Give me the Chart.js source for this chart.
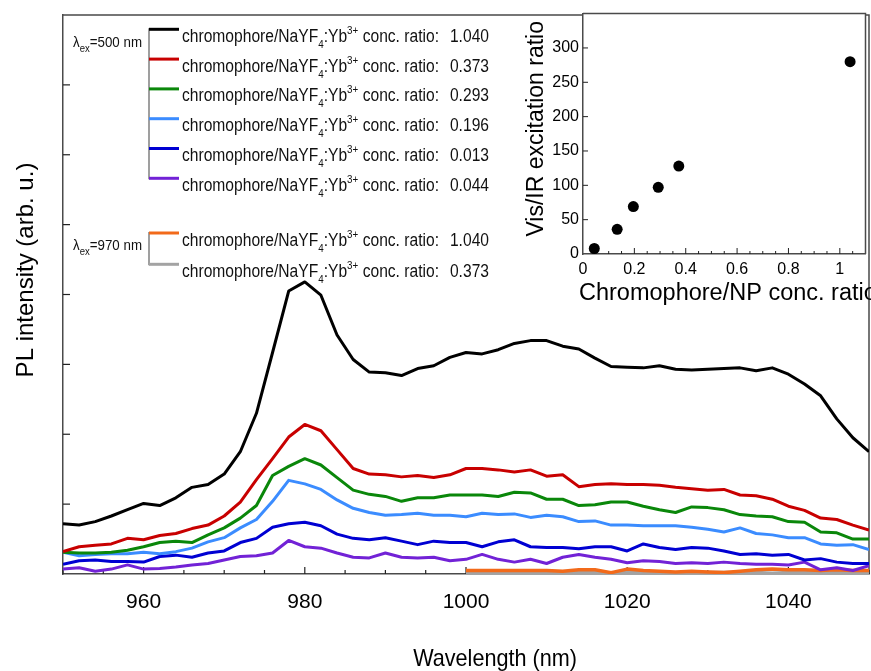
<!DOCTYPE html>
<html>
<head>
<meta charset="utf-8">
<script src="https://cdn.jsdelivr.net/npm/chart.js@4.4.1/dist/chart.umd.min.js"></script>
<style>
  html, body { margin: 0; padding: 0; background: #fff; }
  #wrap { position: relative; width: 871px; height: 671px; overflow: hidden; }
  #mainChart { position: absolute; left: 0; top: 0; }
  #insetChart { position: absolute; left: 500px; top: 0; }
</style>
</head>
<body>
<div id="wrap">
  <canvas id="mainChart" width="871" height="671"></canvas>
  <canvas id="insetChart" width="371" height="310"></canvas>
</div>
<script>
// wavelengths (nm)
const wavelengths = [950, 952, 954, 956, 958, 960, 962, 964, 966, 968,
                     970, 972, 974, 976, 978, 980, 982, 984, 986, 988,
                     990, 992, 994, 996, 998, 1000, 1002, 1004, 1006, 1008,
                     1010, 1012, 1014, 1016, 1018, 1020, 1022, 1024, 1026, 1028,
                     1030, 1032, 1034, 1036, 1038, 1040, 1042, 1044, 1046, 1048,
                     1050];
const wavelengthsIR = [1000, 1002, 1004, 1006, 1008, 1010, 1012, 1014, 1016, 1018,
                       1020, 1022, 1024, 1026, 1028, 1030, 1032, 1034, 1036, 1038,
                       1040, 1042, 1044, 1046, 1048, 1050];
const xTickValues = [960, 980, 1000, 1020, 1040];

// PL intensity, lambda_ex = 500 nm (arb. u.)
const pl1040 = [0.72, 0.70, 0.75, 0.83, 0.92, 1.01, 0.98, 1.09, 1.24, 1.28,
                1.43, 1.75, 2.30, 3.17, 4.05, 4.18, 3.99, 3.42, 3.07, 2.89,
                2.88, 2.84, 2.94, 2.98, 3.10, 3.17, 3.15, 3.21, 3.30, 3.34,
                3.34, 3.26, 3.22, 3.09, 2.97, 2.96, 2.95, 2.98, 2.93, 2.92,
                2.93, 2.94, 2.95, 2.91, 2.95, 2.86, 2.72, 2.55, 2.22, 1.95,
                1.75];
const pl0373 = [0.32, 0.39, 0.41, 0.43, 0.51, 0.49, 0.55, 0.58, 0.65, 0.70,
                0.83, 1.03, 1.35, 1.65, 1.96, 2.14, 2.05, 1.78, 1.51, 1.43,
                1.42, 1.39, 1.41, 1.38, 1.42, 1.51, 1.51, 1.49, 1.46, 1.49,
                1.40, 1.42, 1.25, 1.28, 1.29, 1.28, 1.28, 1.27, 1.24, 1.22,
                1.20, 1.21, 1.13, 1.12, 1.07, 0.97, 0.91, 0.80, 0.78, 0.70,
                0.63];
const pl0293 = [0.31, 0.30, 0.30, 0.31, 0.34, 0.39, 0.45, 0.47, 0.45, 0.56,
                0.66, 0.80, 0.98, 1.41, 1.54, 1.65, 1.56, 1.38, 1.20, 1.14,
                1.11, 1.04, 1.09, 1.09, 1.13, 1.13, 1.13, 1.11, 1.17, 1.16,
                1.07, 1.07, 0.98, 0.99, 1.03, 1.03, 0.97, 0.92, 0.88, 0.96,
                0.95, 0.92, 0.85, 0.83, 0.82, 0.75, 0.74, 0.60, 0.59, 0.50,
                0.50];
const pl0196 = [0.31, 0.26, 0.28, 0.29, 0.29, 0.31, 0.29, 0.32, 0.37, 0.46,
                0.52, 0.66, 0.78, 1.04, 1.34, 1.29, 1.21, 1.06, 0.94, 0.88,
                0.84, 0.85, 0.87, 0.84, 0.84, 0.82, 0.87, 0.85, 0.86, 0.81,
                0.84, 0.82, 0.75, 0.76, 0.70, 0.70, 0.69, 0.69, 0.69, 0.67,
                0.64, 0.60, 0.66, 0.58, 0.56, 0.52, 0.52, 0.43, 0.41, 0.42,
                0.35];
const pl0013 = [0.14, 0.19, 0.20, 0.18, 0.18, 0.17, 0.25, 0.27, 0.24, 0.30,
                0.33, 0.45, 0.51, 0.67, 0.72, 0.74, 0.69, 0.57, 0.51, 0.49,
                0.52, 0.47, 0.42, 0.47, 0.45, 0.45, 0.39, 0.46, 0.49, 0.39,
                0.38, 0.38, 0.36, 0.39, 0.39, 0.33, 0.43, 0.38, 0.35, 0.38,
                0.37, 0.33, 0.28, 0.29, 0.27, 0.28, 0.20, 0.22, 0.17, 0.15,
                0.15];
const pl0044 = [0.07, 0.09, 0.04, 0.07, 0.13, 0.07, 0.08, 0.10, 0.13, 0.15,
                0.20, 0.25, 0.26, 0.30, 0.48, 0.39, 0.37, 0.30, 0.24, 0.23,
                0.30, 0.24, 0.23, 0.24, 0.19, 0.21, 0.28, 0.21, 0.17, 0.21,
                0.15, 0.24, 0.28, 0.24, 0.21, 0.16, 0.19, 0.18, 0.15, 0.16,
                0.15, 0.17, 0.15, 0.14, 0.14, 0.13, 0.17, 0.06, 0.09, 0.05,
                0.12];

// PL intensity, lambda_ex = 970 nm
const plIR1040 = [0.05, 0.05, 0.05, 0.05, 0.05, 0.05, 0.04, 0.06, 0.06, 0.02,
                  0.07, 0.05, 0.04, 0.03, 0.04, 0.03, 0.02, 0.04, 0.06, 0.07,
                  0.06, 0.06, 0.05, 0.06, 0.05, 0.05];
const plIR0373 = [0.02, 0.02, 0.02, 0.01, 0.02, 0.02, 0.02, 0.02, 0.03, 0.01,
                  0.02, 0.02, 0.02, 0.01, 0.02, 0.02, 0.02, 0.02, 0.02, 0.01,
                  0.02, 0.02, 0.02, 0.02, 0.02, 0.02];

// legend ratios
const visRatioLabels = ['1.040', '0.373', '0.293', '0.196', '0.013', '0.044'];
const irRatioLabels = ['1.040', '0.373'];

// inset
const concRatio = [0.044, 0.133, 0.196, 0.293, 0.373, 1.040];
const visIrRatio = [8, 36, 69, 97, 128, 280];
const insetXTicks = [0, 0.2, 0.4, 0.6, 0.8, 1];

// styles
const visColors = ['#000000', '#c80000', '#0a870a', '#3b8cff', '#0000d2', '#7222d6'];
const irColors = ['#f26a1a', '#a3a3a3'];
const FONT = '"Liberation Sans", Arial, sans-serif';
const AXIS = '#4a4a4a';

Chart.defaults.font.family = FONT;
Chart.defaults.color = '#000';

const toPoints = (xs, ys) => xs.map((w, i) => ({x: w, y: ys[i]}));
const visSeries = [pl1040, pl0373, pl0293, pl0196, pl0013, pl0044];
const irSeries = [plIR1040, plIR0373];

let datasets = [];
visSeries.forEach((s, i) => {
    datasets.push({data: toPoints(wavelengths, s), borderColor: visColors[i], borderWidth: 3});
});
irSeries.forEach((s, i) => {
    datasets.push({data: toPoints(wavelengthsIR, s), borderColor: irColors[i], borderWidth: 3.5});
});
datasets = datasets.map(d => Object.assign(d, {
    pointRadius: 0, tension: 0, fill: false,
    borderJoinStyle: 'round', borderCapStyle: 'butt'
}));

function line(ctx, x1, y1, x2, y2) {
    ctx.beginPath();
    ctx.moveTo(x1, y1);
    ctx.lineTo(x2, y2);
    ctx.stroke();
}

// draws pieces of text (with sub/superscripts) squeezed to a target width
function drawRich(ctx, pieces, x, baseline, targetWidth) {
    let total = 0;
    pieces.forEach(p => {
        ctx.font = p.size + 'px ' + FONT;
        total += ctx.measureText(p.t).width;
    });
    const sx = targetWidth / total;
    ctx.save();
    ctx.translate(x, baseline);
    ctx.scale(sx, 1);
    ctx.textAlign = 'left';
    ctx.textBaseline = 'alphabetic';
    let cx = 0;
    pieces.forEach(p => {
        ctx.font = p.size + 'px ' + FONT;
        ctx.fillText(p.t, cx, p.dy);
        cx += ctx.measureText(p.t).width;
    });
    ctx.restore();
    return sx;
}

function drawGroup(ctx, exText, exBaseline, ratios, colors, firstRow, rowStep) {
    const lastRow = firstRow + rowStep * (ratios.length - 1);
    ctx.strokeStyle = '#7f7f7f';
    ctx.lineWidth = 1.5;
    line(ctx, 149, firstRow - 1, 149, lastRow + 1);
    ctx.fillStyle = '#111';
    ratios.forEach((r, i) => {
        const ry = firstRow + i * rowStep;
        ctx.strokeStyle = colors[i];
        ctx.lineWidth = 3;
        line(ctx, 149, ry, 179, ry);
        const sx = drawRich(ctx, [
            {t: 'chromophore/NaYF', size: 17.5, dy: 0},
            {t: '4', size: 11, dy: 6},
            {t: ':Yb', size: 17.5, dy: 0},
            {t: '3+', size: 11, dy: -8},
            {t: ' conc. ratio:', size: 17.5, dy: 0}
        ], 182, ry + 12.5, 257);
        ctx.save();
        ctx.translate(489, ry + 12.5);
        ctx.scale(sx, 1);
        ctx.font = '17.5px ' + FONT;
        ctx.textAlign = 'right';
        ctx.fillText(r, 0, 0);
        ctx.restore();
    });
    drawRich(ctx, [
        {t: '\u03BB', size: 14, dy: 0},
        {t: 'ex', size: 10, dy: 5},
        {t: exText, size: 14, dy: 0}
    ], 73, exBaseline, 69);
}

const mainFrame = {
    id: 'mainFrame',
    beforeDatasetsDraw(chart) {
        const {ctx, chartArea: a, scales: {x, y}} = chart;
        ctx.save();
        ctx.strokeStyle = AXIS;
        ctx.lineWidth = 1.5;
        ctx.beginPath();
        ctx.moveTo(a.left, a.top);
        ctx.lineTo(a.right, a.top);
        ctx.lineTo(a.right, a.bottom);
        ctx.stroke();
        ctx.lineWidth = 1.2;
        ctx.strokeStyle = '#222';
        for (let v = 950; v <= 1050; v += 5) {
            const px = x.getPixelForValue(v);
            line(ctx, px, a.bottom, px, a.bottom - (v % 20 === 0 ? 7 : 4));
        }
        for (let v = 1; v < 8; v++) {
            const py = y.getPixelForValue(v);
            line(ctx, a.left, py, a.left + 7, py);
        }
        ctx.restore();
    },
    afterDatasetsDraw(chart) {
        const ctx = chart.ctx;
        ctx.save();
        drawGroup(ctx, '=500 nm', 46.7, visRatioLabels, visColors, 29.3, 29.8);
        drawGroup(ctx, '=970 nm', 250, irRatioLabels, irColors, 233, 31.3);
        // axis titles
        ctx.fillStyle = '#000';
        ctx.save();
        ctx.translate(26, 270);
        ctx.rotate(-Math.PI / 2);
        ctx.font = '24px ' + FONT;
        ctx.textAlign = 'center';
        ctx.textBaseline = 'middle';
        ctx.fillText('PL intensity (arb. u.)', 0, 0);
        ctx.restore();
        ctx.save();
        ctx.translate(495, 666);
        ctx.scale(0.9, 1);
        ctx.font = '24px ' + FONT;
        ctx.textAlign = 'center';
        ctx.textBaseline = 'alphabetic';
        ctx.fillText('Wavelength (nm)', 0, 0);
        ctx.restore();
        ctx.restore();
    }
};

new Chart(document.getElementById('mainChart'), {
    type: 'line',
    data: {datasets: datasets},
    options: {
        responsive: false,
        animation: false,
        layout: {padding: {top: 15, right: 2, left: 0, bottom: 0}},
        plugins: {legend: {display: false}, tooltip: {enabled: false}},
        scales: {
            x: {
                type: 'linear', min: 950, max: 1050,
                afterFit: s => { s.height = 97; },
                afterBuildTicks: s => { s.ticks = xTickValues.map(v => ({value: v})); },
                ticks: {padding: 16, font: {size: 21}, color: '#000',
                        callback: v => String(v)},
                grid: {display: false, drawTicks: false},
                border: {color: AXIS, width: 1.5}
            },
            y: {
                min: 0, max: 8,
                afterFit: s => { s.width = 63; },
                ticks: {display: false},
                grid: {display: false, drawTicks: false},
                border: {color: AXIS, width: 1.5}
            }
        }
    },
    plugins: [mainFrame]
});

const insetFrame = {
    id: 'insetFrame',
    beforeDraw(chart) {
        const {ctx, chartArea: a} = chart;
        ctx.save();
        ctx.fillStyle = '#fff';
        ctx.fillRect(a.left, a.top, a.right - a.left, a.bottom - a.top);
        ctx.restore();
    },
    beforeDatasetsDraw(chart) {
        const {ctx, chartArea: a, scales: {x, y}} = chart;
        ctx.save();
        ctx.strokeStyle = AXIS;
        ctx.lineWidth = 1.5;
        ctx.beginPath();
        ctx.moveTo(a.left, a.top);
        ctx.lineTo(a.right, a.top);
        ctx.lineTo(a.right, a.bottom);
        ctx.stroke();
        ctx.lineWidth = 1;
        ctx.strokeStyle = '#222';
        for (let i = 1; i <= 21; i++) {
            const px = x.getPixelForValue(i * 0.05);
            line(ctx, px, a.bottom, px, a.bottom - (i % 4 === 0 ? 6 : 3));
        }
        for (let v = 50; v < 350; v += 50) {
            const py = y.getPixelForValue(v);
            line(ctx, a.left, py, a.left + 5, py);
        }
        ctx.restore();
    },
    afterDraw(chart) {
        const {ctx, chartArea: a} = chart;
        ctx.save();
        ctx.fillStyle = '#000';
        ctx.font = '23.5px ' + FONT;
        ctx.textAlign = 'left';
        ctx.textBaseline = 'alphabetic';
        ctx.fillText('Chromophore/NP conc. ratio', a.left - 4, 300);
        ctx.translate(37, (a.top + a.bottom) / 2 - 5);
        ctx.rotate(-Math.PI / 2);
        ctx.font = '23px ' + FONT;
        ctx.textAlign = 'center';
        ctx.textBaseline = 'middle';
        ctx.fillText('Vis/IR excitation ratio', 0, 0);
        ctx.restore();
    }
};

new Chart(document.getElementById('insetChart'), {
    type: 'scatter',
    data: {
        datasets: [{
            data: toPoints(concRatio, visIrRatio),
            backgroundColor: '#000',
            borderColor: '#000',
            pointRadius: 5.5,
            borderWidth: 0
        }]
    },
    options: {
        responsive: false,
        animation: false,
        layout: {padding: {top: 13, right: 3, left: 0, bottom: 0}},
        plugins: {legend: {display: false}, tooltip: {enabled: false}},
        scales: {
            x: {
                type: 'linear', min: 0, max: 1.1,
                afterFit: s => { s.height = 56; },
                afterBuildTicks: s => { s.ticks = insetXTicks.map(v => ({value: v})); },
                ticks: {padding: 6, font: {size: 16}, color: '#000',
                        callback: v => String(v)},
                grid: {display: false, drawTicks: false},
                border: {color: AXIS, width: 1.5}
            },
            y: {
                min: 0, max: 350,
                afterFit: s => { s.width = 83; },
                ticks: {stepSize: 50, padding: 4, font: {size: 16}, color: '#000',
                        callback: v => (v >= 350 ? '' : String(v))},
                grid: {display: false, drawTicks: false},
                border: {color: AXIS, width: 1.5}
            }
        }
    },
    plugins: [insetFrame]
});
</script>
</body>
</html>
